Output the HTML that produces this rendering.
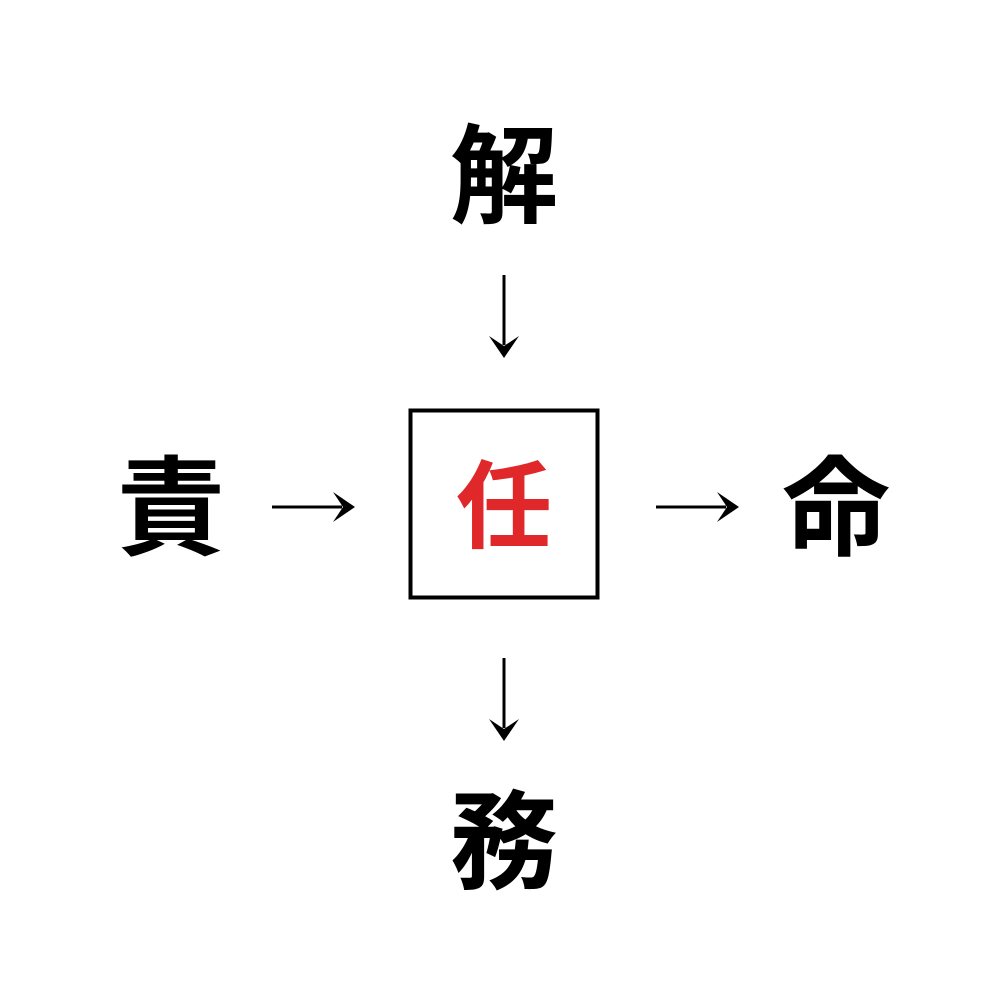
<!DOCTYPE html>
<html><head><meta charset="utf-8"><style>
html,body{margin:0;padding:0;background:#fff;}
svg{display:block;}
text{font-family:"Liberation Sans","Noto Sans CJK JP",sans-serif;}
</style></head><body>
<svg width="1008" height="1008" viewBox="0 0 1008 1008">
<rect width="1008" height="1008" fill="#fff"/>
<g font-size="108" font-weight="bold" text-anchor="middle" dominant-baseline="central" fill="#000">
<text x="504" y="177">解</text>
<text x="171" y="509">責</text>
<text x="836" y="509">命</text>
<text x="504" y="843">務</text>
</g>
<rect x="410.5" y="410.5" width="187" height="187" fill="none" stroke="#000" stroke-width="4"/>
<text x="504" y="508" font-size="96" font-weight="bold" text-anchor="middle" dominant-baseline="central" fill="#e0282a">任</text>
<g stroke="#000" stroke-width="3">
<line x1="504" y1="275" x2="504" y2="345"/>
<line x1="504" y1="658" x2="504" y2="728"/>
<line x1="272" y1="507" x2="342" y2="507"/>
<line x1="656" y1="507" x2="726" y2="507"/>
</g>
<g fill="#000">
<path d="M504,358 L489,336 L504,346 L519,336 Z"/>
<path d="M504,741 L489,719 L504,729 L519,719 Z"/>
<path d="M355,507 L333,492 L343,507 L333,522 Z"/>
<path d="M739,507 L717,492 L727,507 L717,522 Z"/>
</g>
</svg>
</body></html>
